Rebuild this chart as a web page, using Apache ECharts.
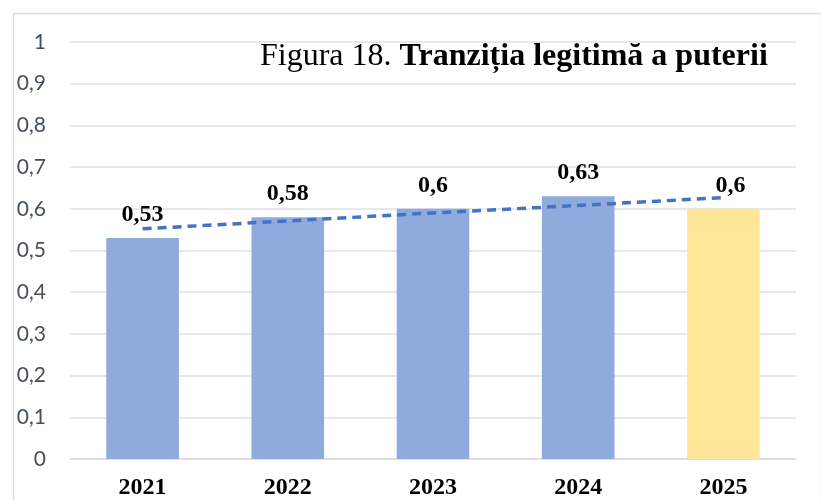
<!DOCTYPE html>
<html><head><meta charset="utf-8">
<script src="https://cdn.jsdelivr.net/npm/echarts@6/dist/echarts.min.js"></script>
<style>html,body{margin:0;padding:0;background:#fff}#c{width:821px;height:500px}</style>
</head><body><div id="c"></div>
<script>
const categories = ['2021', '2022', '2023', '2024', '2025'];
const values = [0.53, 0.58, 0.6, 0.63, 0.6];
const trend = [0.552, 0.571, 0.590, 0.608, 0.627];
const yTicks = [0, 0.1, 0.2, 0.3, 0.4, 0.5, 0.6, 0.7, 0.8, 0.9, 1];
const titleRegular = 'Figura 18. ';
const titleBold = 'Tranziția legitimă a puterii';

const chart = echarts.init(document.getElementById('c'), null, {renderer: 'canvas'});
const barColors = ['#8FAADC', '#8FAADC', '#8FAADC', '#8FAADC', '#FFE699'];
chart.setOption({
  animation: false,
  graphic: [{
    type: 'rect', left: 11, top: 11,
    shape: {width: 808, height: 495},
    style: {fill: 'none', stroke: '#D9DEE6', lineWidth: 1.5}
  }],
  title: {
    text: '{r|' + titleRegular + '}{b|' + titleBold + '}',
    left: 255, top: 36,
    textStyle: {
      fontWeight: 'normal',
      rich: {
        r: {fontFamily: 'Liberation Serif', fontSize: 32, fontWeight: 'normal', color: '#000'},
        b: {fontFamily: 'Liberation Serif', fontSize: 32, fontWeight: 'bold', color: '#000'}
      }
    }
  },
  grid: {left: 70, right: 25, top: 42, bottom: 40, containLabel: false},
  xAxis: {
    type: 'category', data: categories,
    axisLine: {show: true, lineStyle: {color: '#D9DDE3', width: 1.5}},
    axisTick: {show: false},
    axisLabel: {fontFamily: 'Liberation Serif', fontWeight: 'bold', fontSize: 24, color: '#000', margin: 17}
  },
  yAxis: {
    type: 'value', min: 0, max: 1, interval: 0.1,
    axisLine: {show: false}, axisTick: {show: false},
    splitLine: {lineStyle: {color: '#DDE1E8', width: 1.5}},
    axisLabel: {
      fontFamily: 'Lato', fontSize: 21, color: '#44505F', margin: 24,
      formatter: v => {
        const t = yTicks.find(x => Math.abs(x - v) < 1e-9);
        return String(t === undefined ? v : t).replace('.', ',');
      }
    }
  },
  series: [{
    type: 'bar', barWidth: '50%',
    data: values.map((v, i) => ({
      value: v,
      itemStyle: {color: barColors[i]},
      label: i === 4 ? {offset: [7, 0]} : {}
    })),
    label: {
      show: true, position: 'top', distance: 11,
      fontFamily: 'Liberation Serif', fontWeight: 'bold', fontSize: 24, color: '#000',
      formatter: p => String(p.value).replace('.', ',')
    }
  }, {
    type: 'line', data: trend, symbol: 'none', z: 5,
    lineStyle: {color: '#4472C4', width: 3.5, type: [9, 6]}
  }]
});
</script></body></html>
